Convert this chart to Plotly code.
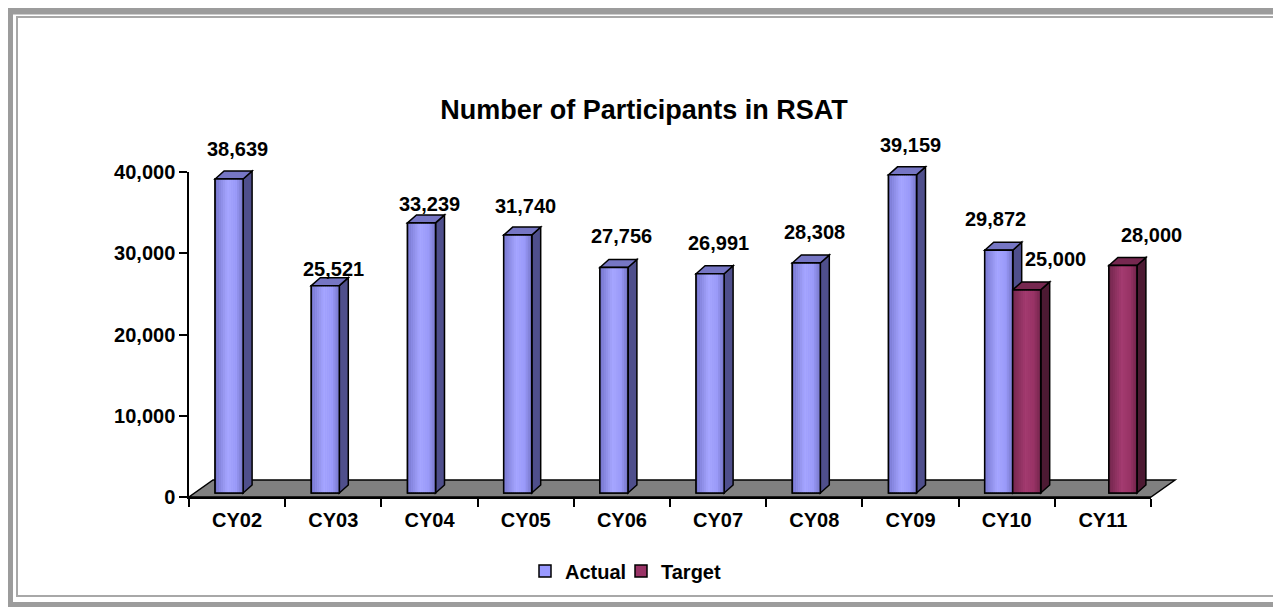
import plotly.graph_objects as go

# ---------------- data ----------------
categories = ["CY02", "CY03", "CY04", "CY05", "CY06", "CY07", "CY08", "CY09", "CY10", "CY11"]
actual = [38639, 25521, 33239, 31740, 27756, 26991, 28308, 39159, 29872, None]
target = [None, None, None, None, None, None, None, None, 25000, 28000]
y_ticks = [0, 10000, 20000, 30000, 40000]
series_names = ["Actual", "Target"]

# ---------------- layout geometry / style ----------------
PAGE_OFF = 8                         # default body margin of the page
SW, SH = 1281, 607                   # screen size
W, H = SW - PAGE_OFF, SH - PAGE_OFF
X_LEFT, X_RIGHT, Y_TOP, Y_ZERO = 189, 1151, 172, 497   # screen px of plot area
ML, MT = X_LEFT - PAGE_OFF, Y_TOP - PAGE_OFF
MR, MB = W - (X_RIGHT - PAGE_OFF), H - (Y_ZERO - PAGE_OFF)
XR = [-0.5, len(categories) - 0.5]
YR = [0, 40000]
PW, PH = X_RIGHT - X_LEFT, Y_ZERO - Y_TOP
UX = PW / (XR[1] - XR[0])          # px per category
UY = PH / (YR[1] - YR[0])          # px per value unit

BAR_W_PX = 28
BAR_DEPTH_PX = (9, 8)
FLOOR_DEPTH_PX = (24, 17)
BAR_INSET_PX = (6, 4)
N_STRIPES = 14

FONT = "Liberation Sans, Arial, sans-serif"
COLORS = {
    "Actual": dict(front="#9999FF", side="#4F4F8C", top="#7676C4",
                   grad=[(0.0, (0x74, 0x74, 0xCC)), (0.45, (0xA6, 0xA6, 0xFF)),
                         (0.75, (0x9A, 0x9A, 0xF8)), (1.0, (0x74, 0x74, 0xC4))]),
    "Target": dict(front="#993366", side="#4D1A33", top="#762850",
                   grad=[(0.0, (0x72, 0x26, 0x4C)), (0.45, (0xA3, 0x3B, 0x70)),
                         (0.75, (0x99, 0x33, 0x66)), (1.0, (0x70, 0x24, 0x4A))]),
}
LABEL_XSHIFT = {"Actual": [8, 8, 8, 8, 8, 8, 8, 8, -3, 0], "Target": [0] * 8 + [29, 29]}
LABEL_GAP = {"Actual": [22, 9, 11, 21, 23, 23, 23, 22, 23, 23], "Target": [23] * 10}
LEGEND_SYMBOL_X = {"Actual": 545, "Target": 641}
LEGEND_Y = 571


def dx(p):
    return p / UX


def dy(p):
    return p / UY


def xp(x):
    return (x - XR[0]) / (XR[1] - XR[0])


def yp(y):
    return (y - YR[0]) / (YR[1] - YR[0])


def path(points):
    return "M " + " L ".join(f"{xp(a):.5f},{yp(b):.5f}" for a, b in points) + " Z"


def fx(p):
    return (p - X_LEFT) / PW


def fy(p):
    return (Y_ZERO - p) / PH


def grad_color(stops, t):
    for (t0, c0), (t1, c1) in zip(stops[:-1], stops[1:]):
        if t0 <= t <= t1:
            f = (t - t0) / (t1 - t0)
            r, g, b = (round(a + (b_ - a) * f) for a, b_ in zip(c0, c1))
            return f"rgb({r},{g},{b})"
    return "rgb(%d,%d,%d)" % stops[-1][1]


bw = dx(BAR_W_PX)
bdx, bdy = dx(BAR_DEPTH_PX[0]), dy(BAR_DEPTH_PX[1])
fdx, fdy = dx(FLOOR_DEPTH_PX[0]), dy(FLOOR_DEPTH_PX[1])
base = dy(BAR_INSET_PX[1])
offsets = {"Actual": -bw + dx(BAR_INSET_PX[0]), "Target": dx(BAR_INSET_PX[0])}

xs = list(range(len(categories)))
fig = go.Figure()
shapes = []
annotations = []

# floor
shapes.append(dict(type="path", xref="paper", yref="paper", layer="below",
                   path=path([(XR[0], YR[0]), (XR[1], YR[0]), (XR[1] + fdx, YR[0] + fdy), (XR[0] + fdx, YR[0] + fdy)]),
                   fillcolor="#808080", line=dict(color="black", width=1.5)))

for k, (name, vals) in enumerate(zip(series_names, [actual, target])):
    c = COLORS[name]
    off = offsets[name]
    legend_id = "legend" if k == 0 else "legend2"
    # solid front face (legend entry)
    fig.add_trace(go.Bar(
        x=xs, y=vals, base=base, name=name, offset=off, width=bw, legend=legend_id,
        marker=dict(color=c["front"], line=dict(color="black", width=1.5)),
        cliponaxis=False, hoverinfo="skip",
    ))
    # shading stripes of the front face
    sw = bw / N_STRIPES
    for s in range(N_STRIPES):
        fig.add_trace(go.Bar(
            x=xs, y=vals, base=base, offset=off + s * sw, width=sw * 1.05, showlegend=False,
            marker=dict(color=grad_color(c["grad"], (s + 0.5) / N_STRIPES), line=dict(width=0)),
            cliponaxis=False, hoverinfo="skip",
        ))
    # outline on top
    fig.add_trace(go.Bar(
        x=xs, y=vals, base=base, offset=off, width=bw, showlegend=False,
        marker=dict(color="rgba(0,0,0,0)", line=dict(color="black", width=1.5)),
        cliponaxis=False, hoverinfo="skip",
    ))
    for i, v in enumerate(vals):
        if v is None:
            continue
        x0, x1 = i + off, i + off + bw
        yb, yt = base, base + v
        shapes.append(dict(type="path", xref="paper", yref="paper", layer="below",
                           path=path([(x1, yb), (x1 + bdx, yb + bdy), (x1 + bdx, yt + bdy), (x1, yt)]),
                           fillcolor=c["side"], line=dict(color="black", width=1.5)))
        shapes.append(dict(type="path", xref="paper", yref="paper", layer="below",
                           path=path([(x0, yt), (x0 + bdx, yt + bdy), (x1 + bdx, yt + bdy), (x1, yt)]),
                           fillcolor=c["top"], line=dict(color="black", width=1.5)))
        annotations.append(dict(x=xp(i + off + bw / 2), y=yp(yt + bdy), xref="paper", yref="paper",
                                text=f"{v:,}", showarrow=False, xanchor="center", yanchor="middle",
                                yshift=LABEL_GAP[name][i], xshift=LABEL_XSHIFT[name][i],
                                font=dict(family=FONT, size=20, color="black", weight="bold")))

# frame
shapes.append(dict(type="rect", xref="paper", yref="paper", x0=fx(9), x1=fx(1286), y0=fy(10.5), y1=fy(606),
                   line=dict(color="#9C9C9C", width=8), fillcolor="rgba(0,0,0,0)", layer="above"))
shapes.append(dict(type="rect", xref="paper", yref="paper", x0=fx(17), x1=fx(1277), y0=fy(17), y1=fy(596),
                   line=dict(color="#A8A8A8", width=2), fillcolor="rgba(0,0,0,0)", layer="above"))

legend_font = dict(family=FONT, size=20, color="black", weight="bold")
fig.update_layout(
    width=W, height=H, autosize=False,
    margin=dict(l=ML, r=MR, t=MT, b=MB),
    paper_bgcolor="white", plot_bgcolor="rgba(0,0,0,0)",
    barmode="overlay",
    font=dict(family=FONT, size=20, color="black", weight="bold"),
    title=dict(text="Number of Participants in RSAT", x=fx(644), xref="paper", xanchor="center",
               y=1 - (110 - PAGE_OFF) / H, yref="container", yanchor="middle",
               font=dict(family=FONT, size=27, color="black", weight="bold")),
    xaxis=dict(range=XR, tickvals=xs, ticktext=categories, ticks="", showline=True,
               linecolor="black", linewidth=1.5, showgrid=False, zeroline=False, ticklabelstandoff=4,
               tickfont=dict(family=FONT, size=20, color="black", weight="bold"),
               minor=dict(tickvals=[x - 0.5 for x in xs] + [XR[1]], ticks="outside", ticklen=8,
                          tickwidth=1.5, tickcolor="black", showgrid=False)),
    yaxis=dict(range=YR, tickvals=y_ticks, tickformat=",", ticks="outside", ticklen=8, tickwidth=1.5,
               tickcolor="black", showline=True, linecolor="black", linewidth=1.5,
               showgrid=False, zeroline=False,
               tickfont=dict(family=FONT, size=20, color="black", weight="bold")),
    legend=dict(orientation="h", x=fx(LEGEND_SYMBOL_X["Actual"] - 20), xanchor="left", y=fy(LEGEND_Y),
                yanchor="middle", font=legend_font, itemwidth=30, borderwidth=0,
                bgcolor="rgba(0,0,0,0)"),
    legend2=dict(orientation="h", x=fx(LEGEND_SYMBOL_X["Target"] - 20), xanchor="left", y=fy(LEGEND_Y),
                 yanchor="middle", font=legend_font, itemwidth=30, borderwidth=0,
                 bgcolor="rgba(0,0,0,0)"),
    shapes=shapes,
    annotations=annotations,
    showlegend=True,
)

fig.write_html("out.html")
